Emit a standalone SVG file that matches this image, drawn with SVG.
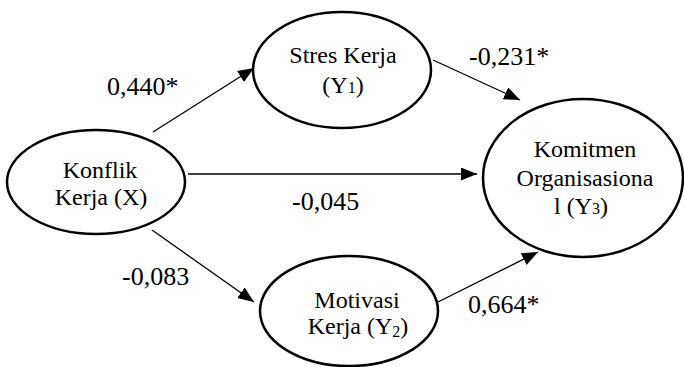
<svg xmlns="http://www.w3.org/2000/svg" width="684" height="367" viewBox="0 0 684 367">
<defs>
<marker id="ah" viewBox="0 0 10 10" refX="10" refY="5" markerWidth="16" markerHeight="13" markerUnits="userSpaceOnUse" orient="auto" preserveAspectRatio="none">
<path d="M0,0 L10,5 L0,10 Z" fill="#000"/>
</marker>
<style>
.node ellipse{fill:#fff;stroke:#000;stroke-width:2.5}
.node text{font-family:"Liberation Serif","Times New Roman",serif;font-size:24px;fill:#000;text-anchor:middle}
.lbl{font-family:"Liberation Serif","Times New Roman",serif;font-size:26px;fill:#000}
.sub{font-size:16px}
#connectors line{stroke:#000;stroke-width:1.3;marker-end:url(#ah)}
</style>
</defs>
<rect width="684" height="367" fill="#fff"/>
<g id="connectors">
<line x1="153" y1="132" x2="254" y2="68"/>
<line x1="188" y1="174" x2="477" y2="174"/>
<line x1="152" y1="230" x2="254" y2="302"/>
<line x1="433" y1="60" x2="520" y2="100"/>
<line x1="438" y1="302" x2="538" y2="252"/>
</g>
<g id="konflik" class="node">
<ellipse cx="96" cy="182" rx="89" ry="52"/>
<text x="100" y="178">Konflik</text>
<text x="101" y="205">Kerja (X)</text>
</g>
<g id="stres" class="node">
<ellipse cx="342" cy="70" rx="89" ry="58"/>
<text x="343" y="63">Stres Kerja</text>
<text x="343" y="93">(Y<tspan class="sub">1</tspan>)</text>
</g>
<g id="komitmen" class="node">
<ellipse cx="583" cy="178" rx="100" ry="79"/>
<text x="585" y="157">Komitmen</text>
<text x="585" y="186">Organisasiona</text>
<text x="581" y="214">l (Y<tspan class="sub">3</tspan>)</text>
</g>
<g id="motivasi" class="node">
<ellipse cx="349" cy="311" rx="89" ry="55"/>
<text x="357" y="308">Motivasi</text>
<text x="358" y="334">Kerja (Y<tspan class="sub" dy="3">2</tspan><tspan dy="-3">)</tspan></text>
</g>
<g id="labels">
<text class="lbl" x="107" y="95">0,440*</text>
<text class="lbl" x="469" y="65">-0,231*</text>
<text class="lbl" x="292" y="210">-0,045</text>
<text class="lbl" x="122" y="285">-0,083</text>
<text class="lbl" x="468" y="313">0,664*</text>
</g>
</svg>
